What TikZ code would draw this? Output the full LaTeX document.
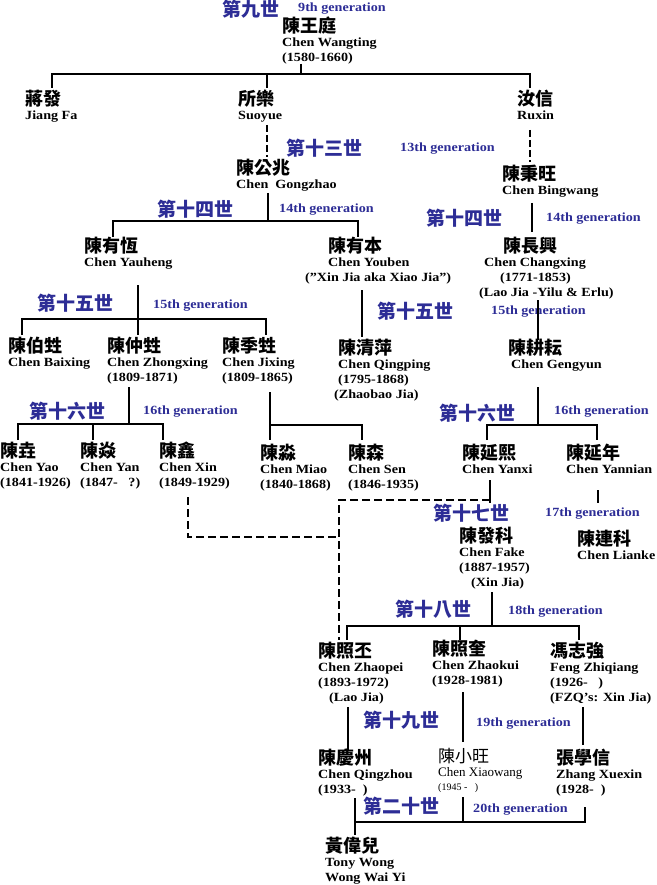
\documentclass[tikz,border=0pt]{standalone}
\usepackage{fontspec}
\setmainfont{Liberation Serif}[FakeStretch=1.13]
\newfontfamily\plainserif{Liberation Serif}
\newfontfamily\cjk{Noto Sans CJK TC}
\definecolor{gen}{RGB}{45,45,150}
\newcommand\pp[5]{\node[pers] (#1) at (#2,#3) {{\cjk\fontsize{18}{19}\selectfont\bfseries #4}\\[-1pt]#5};}
\newcommand\genC[3]{\node[genc] at (#1,#2) {#3};}
\newcommand\genE[3]{\node[gene] at (#1,#2) {#3};}
\begin{document}
\begin{tikzpicture}[x=1pt,y=-1pt,
 pers/.style={anchor=north west,inner sep=0pt,align=left,font=\fontsize{12.5}{15}\selectfont\bfseries},
 genc/.style={anchor=north west,inner sep=0pt,text=gen,font=\cjk\fontsize{19}{20}\selectfont\bfseries},
 gene/.style={anchor=north west,inner sep=0pt,text=gen,font=\fontsize{12.5}{13}\selectfont\bfseries},
 ln/.style={line width=1.4pt},
 dl/.style={line width=1.4pt,dash pattern=on 8pt off 4pt}]
\useasboundingbox[fill=white] (0,0) rectangle (656,885);
% generation labels
\genC{222}{0}{第九世}\genE{298}{3}{9th generation}
\genC{286}{139}{第十三世}\genE{400}{143}{13th generation}
\genC{157}{200}{第十四世}\genE{279}{204}{14th generation}
\genC{426}{209}{第十四世}\genE{546}{213}{14th generation}
\genC{37}{294}{第十五世}\genE{153}{300}{15th generation}
\genC{377}{302}{第十五世}\genE{491}{306}{15th generation}
\genC{29}{402}{第十六世}\genE{143}{406}{16th generation}
\genC{439}{404}{第十六世}\genE{554}{406}{16th generation}
\genC{433}{504}{第十七世}\genE{545}{508}{17th generation}
\genC{395}{600}{第十八世}\genE{508}{606}{18th generation}
\genC{363}{711}{第十九世}\genE{476}{718}{19th generation}
\genC{363}{797}{第二十世}\genE{473}{804}{20th generation}
% persons
\pp{wt}{282}{17}{陳王庭}{Chen Wangting\\(1580-1660)}
\pp{jf}{25}{90}{蔣發}{Jiang Fa}
\pp{sy}{238}{90}{所樂}{Suoyue}
\pp{rx}{517}{90}{汝信}{Ruxin}
\pp{gz}{236}{159}{陳公兆}{Chen\ \ Gongzhao}
\pp{bw}{502}{165}{陳秉旺}{Chen Bingwang}
\pp{yh}{84}{237}{陳有恆}{Chen Yauheng}
\pp{yb}{328}{237}{陳有本}{Chen Youben\\\hspace*{-23pt}(\symbol{34}Xin Jia aka Xiao Jia\symbol{34})}
\pp{cx}{503}{237}{陳長興}{\hspace*{-19pt}Chen Changxing\\\hspace*{-3pt}(1771-1853)\\\hspace*{-24pt}(Lao Jia -Yilu \& Erlu)}
\pp{bx}{8}{337}{陳伯甡}{Chen Baixing}
\pp{zx}{107}{337}{陳仲甡}{Chen Zhongxing\\(1809-1871)}
\pp{jx}{222}{337}{陳季甡}{Chen Jixing\\(1809-1865)}
\pp{qp}{338}{339}{陳清萍}{Chen Qingping\\(1795-1868)\\\hspace*{-4pt}(Zhaobao Jia)}
\pp{gy}{508}{339}{陳耕耘}{\hspace*{3pt}Chen Gengyun}
\pp{yao}{0}{442}{陳垚}{Chen Yao\\(1841-1926)}
\pp{yan}{80}{442}{陳焱}{Chen Yan\\(1847-\ \ \ ?)}
\pp{xin}{159}{442}{陳鑫}{Chen Xin\\(1849-1929)}
\pp{miao}{260}{444}{陳淼}{Chen Miao\\(1840-1868)}
\pp{sen}{348}{444}{陳森}{Chen Sen\\(1846-1935)}
\pp{yx}{462}{444}{陳延熙}{Chen Yanxi}
\pp{yn}{566}{444}{陳延年}{Chen Yannian}
\pp{fk}{459}{527}{陳發科}{Chen Fake\\(1887-1957)\\\hspace*{12pt}(Xin Jia)}
\pp{lk}{577}{530}{陳連科}{Chen Lianke}
\pp{zp}{318}{642}{陳照丕}{Chen Zhaopei\\(1893-1972)\\\hspace*{11pt}(Lao Jia)}
\pp{zk}{432}{640}{陳照奎}{Chen Zhaokui\\(1928-1981)}
\pp{fz}{550}{642}{馮志強}{Feng Zhiqiang\\(1926-\ \ \ )\\(FZQ's: Xin Jia)}
\pp{qz}{318}{749}{陳慶州}{Chen Qingzhou\\(1933-\ \ )}
\node[anchor=north west,inner sep=0pt,align=left,font=\plainserif\fontsize{13}{14}\selectfont] (xw) at (438,748) {{\cjk\fontsize{17}{18}\selectfont 陳小旺}\\[0pt]Chen Xiaowang\\{\fontsize{10}{11}\selectfont (1945 -\ \ \ )}};
\pp{zxx}{556}{749}{張學信}{Zhang Xuexin\\(1928-\ \ )}
\pp{tw}{325}{837}{黃偉兒}{Tony Wong\\Wong Wai Yi}
% lines
\draw[ln] (301,64) -- (301,74);
\draw[ln] (52,88) -- (52,74) -- (530,74) -- (530,88);
\draw[ln] (267,74) -- (267,88);
\draw[ln,dash pattern=on 7pt off 3pt] (267,125) -- (267,157);
\draw[ln,dash pattern=on 7pt off 3pt] (530,130) -- (530,162);
\draw[ln] (268,193) -- (268,221);
\draw[ln] (113,237) -- (113,221) -- (358,221) -- (358,237);
\draw[ln] (532,203) -- (532,232);
\draw[ln] (138,285) -- (138,335);
\draw[ln] (22,335) -- (22,319) -- (266,319) -- (266,335);
\draw[ln] (362,290) -- (362,337);
\draw[ln] (538,300) -- (538,340);
\draw[ln] (129,387) -- (129,424);
\draw[ln] (18,440) -- (18,424) -- (163,424) -- (163,440);
\draw[ln] (93,424) -- (93,440);
\draw[ln] (270,392) -- (270,440);
\draw[ln] (270,425) -- (362,425) -- (362,440);
\draw[ln] (538,387) -- (538,425);
\draw[ln] (487,440) -- (487,425) -- (597,425) -- (597,440);
\draw[dl] (188,497) -- (188,537) -- (339,537);
\draw[ln] (490,480) -- (490,503);
\draw[dl] (490,500) -- (339,500) -- (339,640);
\draw[ln] (598,490) -- (598,503);
\draw[ln] (492,592) -- (492,626);
\draw[ln] (347,640) -- (347,626) -- (579,626) -- (579,640);
\draw[ln] (460,626) -- (460,640);
\draw[ln] (348,707) -- (348,750);
\draw[ln] (463,692) -- (463,742);
\draw[ln] (583,707) -- (583,745);
\draw[ln] (355,798) -- (355,835);
\draw[ln] (355,822) -- (585,822) -- (585,807);
\draw[ln] (463,797) -- (463,822);
\end{tikzpicture}
\end{document}
